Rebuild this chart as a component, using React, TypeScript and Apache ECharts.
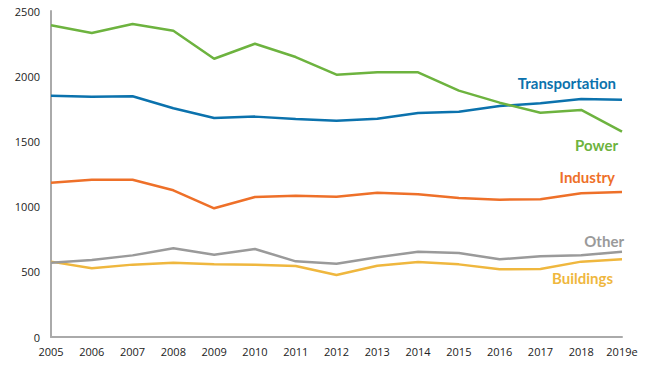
import React, { useEffect, useRef } from "react";
import * as echarts from "echarts";

const years = ["2005", "2006", "2007", "2008", "2009", "2010", "2011", "2012", "2013", "2014", "2015", "2016", "2017", "2018", "2019e"];
const transportation = [1851, 1843, 1846, 1754, 1679, 1690, 1672, 1659, 1674, 1718, 1728, 1771, 1792, 1825, 1820];
const power = [2390, 2331, 2400, 2349, 2134, 2249, 2147, 2012, 2030, 2030, 1889, 1797, 1720, 1741, 1575];
const industry = [1183, 1206, 1206, 1125, 987, 1074, 1084, 1076, 1107, 1094, 1066, 1053, 1056, 1102, 1112];
const other = [570, 590, 626, 680, 631, 675, 580, 562, 611, 654, 644, 596, 619, 626, 654];
const buildings = [578, 527, 555, 570, 557, 555, 545, 475, 547, 575, 557, 519, 521, 578, 596];

const colors = {
  Transportation: "#0b72ad",
  Power: "#6db33f",
  Industry: "#ee7029",
  Other: "#9a9a9a",
  Buildings: "#efb73e",
};

export default function App() {
  const ref = useRef<HTMLDivElement>(null);
  useEffect(() => {
    const chart = echarts.init(ref.current!, undefined, { renderer: "svg" });
    const mk = (name: string, data: number[]) => ({
      name,
      type: "line",
      data,
      symbol: "none",
      lineStyle: { width: 2.5, color: (colors as any)[name] },
      itemStyle: { color: (colors as any)[name] },
    });
    const lbl = (text: string, right: number, top: number) => ({
      type: "text",
      right,
      top,
      style: {
        text,
        fill: (colors as any)[text],
        font: "bold 15px Lato, 'Open Sans', sans-serif",
      },
    });
    chart.setOption({
      animation: false,
      grid: { left: 51, right: 33, top: 11, bottom: 29 },
      xAxis: {
        type: "category",
        data: years,
        boundaryGap: false,
        axisLine: { lineStyle: { color: "#aaaaaa", width: 2 } },
        axisTick: { show: false },
        axisLabel: { color: "#222", fontSize: 11, fontFamily: "'Open Sans', sans-serif", margin: 9 },
      },
      yAxis: {
        type: "value",
        min: 0,
        max: 2500,
        interval: 500,
        axisLine: { show: true, lineStyle: { color: "#aaaaaa", width: 2 } },
        axisTick: { show: false },
        splitLine: { show: false },
        axisLabel: {
          color: "#222",
          fontSize: 11,
          fontFamily: "'Open Sans', sans-serif",
          margin: 11,
          formatter: (v: number) => String(v),
        },
      },
      series: [
        mk("Buildings", buildings),
        mk("Other", other),
        mk("Industry", industry),
        mk("Transportation", transportation),
        mk("Power", power),
      ],
      graphic: [
        lbl("Transportation", 39, 75),
        lbl("Power", 37, 137),
        lbl("Industry", 40, 169),
        lbl("Other", 31, 233),
        lbl("Buildings", 42, 270),
      ],
    });
    return () => chart.dispose();
  }, []);
  return <div ref={ref} style={{ width: 655, height: 366, position: "absolute", left: 0, top: 0 }} />;
}
